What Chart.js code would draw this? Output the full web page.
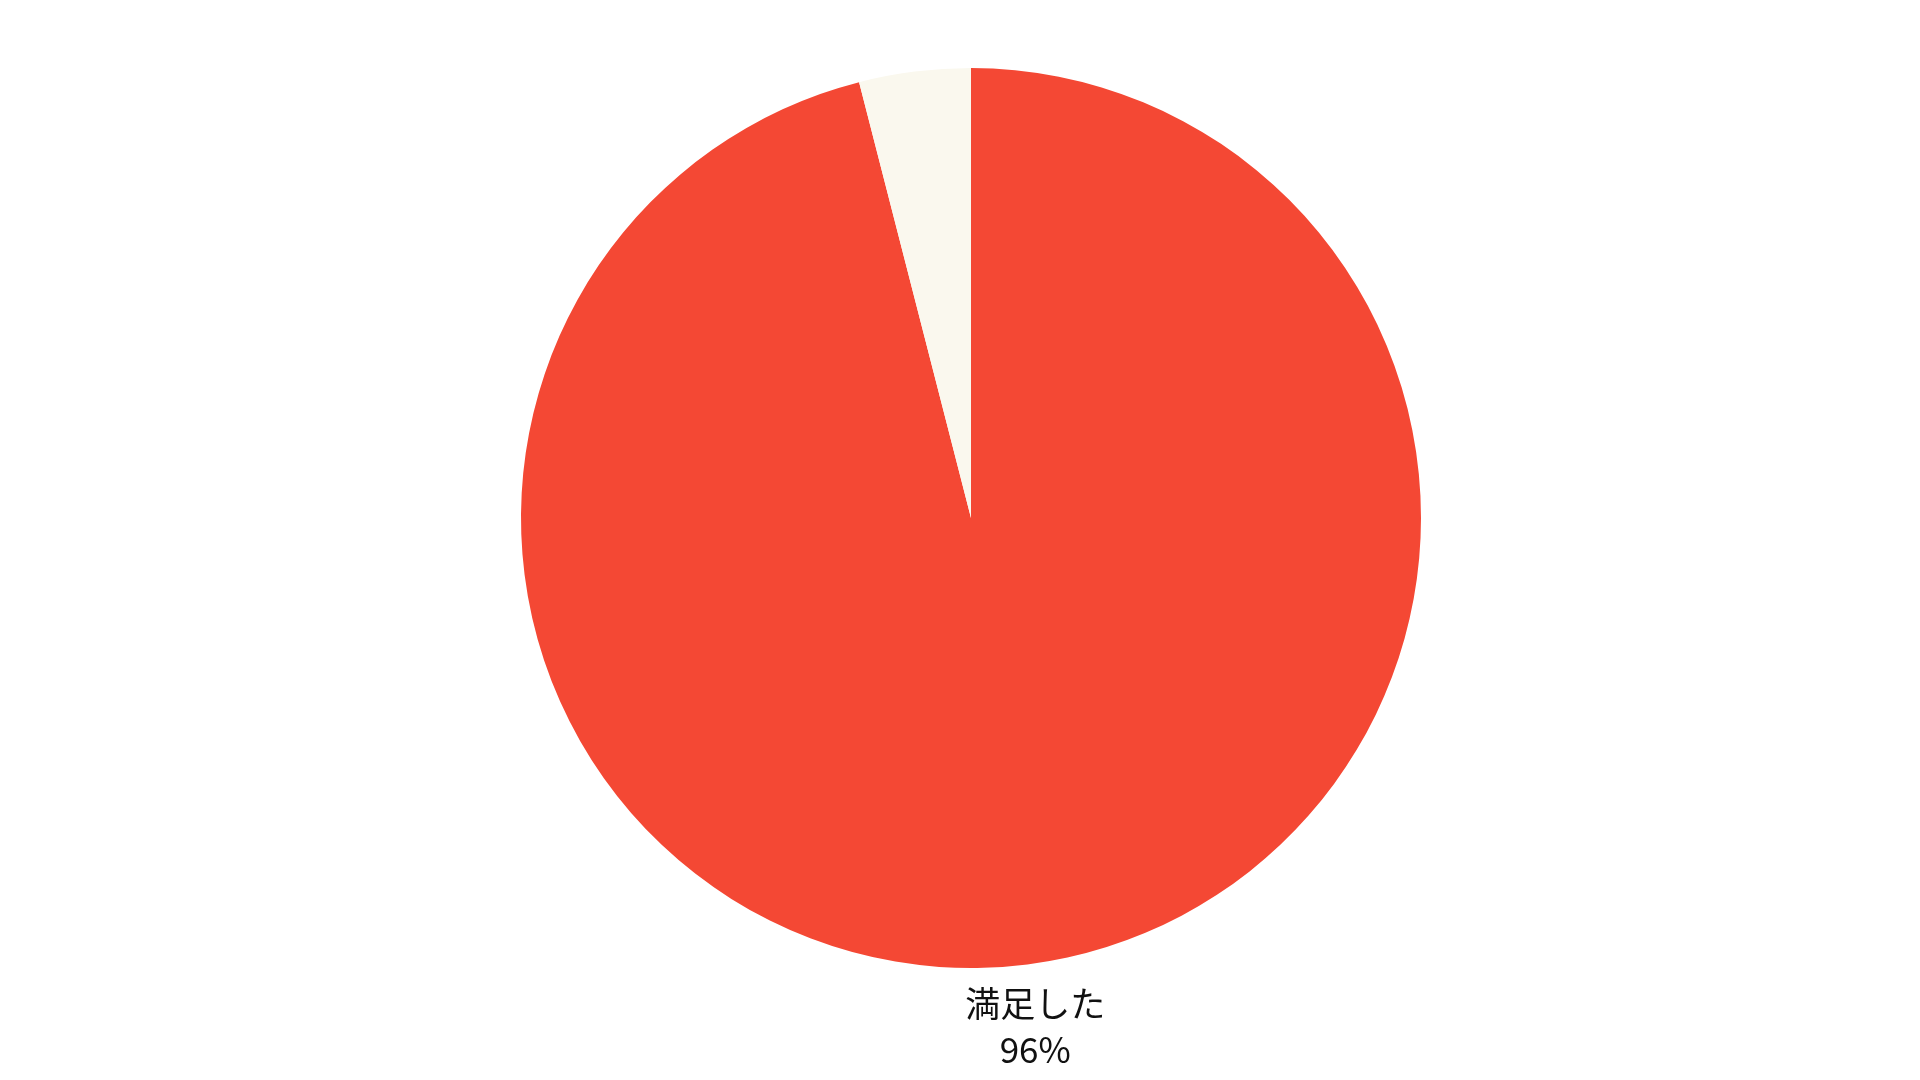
<!DOCTYPE html>
<html>
<head>
<meta charset="utf-8">
<script src="https://cdn.jsdelivr.net/npm/chart.js@4/dist/chart.umd.min.js"></script>
<style>
  html, body { margin: 0; padding: 0; background: #fff; }
  #wrap { width: 1920px; height: 1080px; position: relative; }
</style>
</head>
<body>
<div id="wrap"><canvas id="c-pie"></canvas></div>
<script>
// 満足度の円グラフ：大きい方のスライスだけ外側にラベルを出す
const LABELS = ['満足した', '不満'];
const VALUES = [96, 4];
const COLORS = ['#f44834', '#faf8ee'];
const SHOWN = [true, false];   // 外側ラベルを出すスライス

Chart.defaults.font.family = '"Noto Sans CJK JP","Noto Sans",sans-serif';

const outsideLabels = {
  id: 'outsideLabels',
  afterDatasetsDraw(chart) {
    const ctx = chart.ctx;
    const total = VALUES.reduce((a, b) => a + b, 0);
    chart.getDatasetMeta(0).data.forEach((arc, i) => {
      if (!SHOWN[i]) return;
      const p = arc.getProps(['x', 'y', 'startAngle', 'endAngle', 'outerRadius'], true);
      const mid = (p.startAngle + p.endAngle) / 2;
      const r = p.outerRadius + 62;
      const x = p.x + Math.cos(mid) * r;
      const y = p.y + Math.sin(mid) * r;
      ctx.save();
      ctx.fillStyle = '#111';
      ctx.font = '35px "Noto Sans CJK JP", sans-serif';
      ctx.textAlign = 'center';
      ctx.textBaseline = 'middle';
      ctx.fillText(LABELS[i], x, y - 22);
      ctx.fillText(Math.round(VALUES[i] / total * 100) + '%', x, y + 24);
      ctx.restore();
    });
  }
};

new Chart(document.getElementById('c-pie'), {
  type: 'pie',
  data: { labels: LABELS, datasets: [{ data: VALUES, backgroundColor: COLORS, borderWidth: 0 }] },
  options: {
    responsive: true,
    maintainAspectRatio: false,
    animation: false,
    layout: { padding: { top: 68, bottom: 112, left: 22, right: 0 } },
    plugins: { legend: { display: false }, tooltip: { enabled: false } },
  },
  plugins: [outsideLabels],
});
</script>
</body>
</html>
